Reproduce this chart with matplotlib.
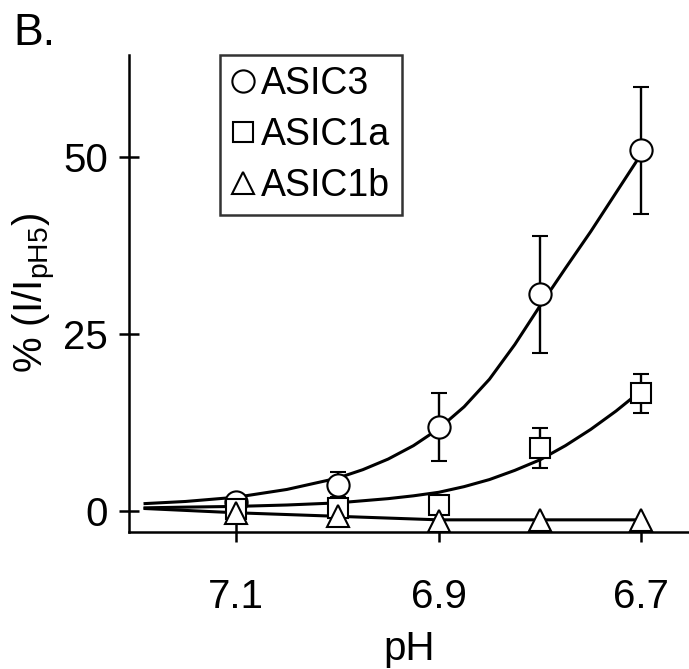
import numpy as np
import matplotlib.pyplot as plt

plt.rcParams['font.family'] = ['Liberation Sans', 'DejaVu Sans']
plt.rcParams['mathtext.default'] = 'regular'

# data points (pH, % of pH5 current)
ph = np.array([7.1, 7.0, 6.9, 6.8, 6.7])
asic3 = np.array([1.2, 3.7, 11.8, 30.6, 51.0])
asic3_err = np.array([1.0, 1.7, 4.8, 8.3, 9.0])
asic1a = np.array([0.3, 0.4, 0.8, 8.9, 16.6])
asic1a_err = np.array([0.0, 0.0, 0.0, 2.8, 2.8])
asic1b = np.array([-0.3, -0.8, -1.4, -1.3, -1.3])

# fitted curves
fit_ph = np.array([7.19, 7.15, 7.1, 7.05, 7.0, 6.975, 6.95, 6.925, 6.9, 6.875,
                   6.85, 6.825, 6.8, 6.775, 6.75, 6.725, 6.7])
fit_asic3 = np.array([1.0, 1.3, 1.9, 3.0, 4.6, 5.8, 7.3, 9.2, 11.6, 14.7,
                      18.6, 23.5, 29.0, 34.3, 39.5, 45.0, 50.5])
fit_asic1a = np.array([0.4, 0.5, 0.6, 0.8, 1.1, 1.4, 1.7, 2.1, 2.6, 3.4,
                       4.4, 5.7, 7.2, 9.2, 11.5, 14.1, 17.0])
line_ph = np.array([7.19, 7.1, 7.0, 6.9, 6.8, 6.7])
line_asic1b = np.array([0.3, -0.3, -0.8, -1.3, -1.3, -1.3])

fig = plt.figure(figsize=(6.89, 6.69), dpi=100)
ax = fig.add_axes([0.187, 0.205, 0.813, 0.713])

lw = 2.2
ax.plot(fit_ph, fit_asic3, color='black', lw=lw, zorder=2)
ax.plot(fit_ph, fit_asic1a, color='black', lw=lw, zorder=2)
ax.plot(line_ph, line_asic1b, color='black', lw=lw, zorder=2)

eb = dict(mfc='white', mec='black', mew=1.5, ecolor='black', elinewidth=1.7,
          capsize=6, capthick=1.7)
h3 = ax.errorbar(ph, asic3, yerr=asic3_err, fmt='o', ms=16, zorder=3, **eb)
h1a = ax.errorbar(ph, asic1a, yerr=asic1a_err, fmt='s', ms=14.5, zorder=4, **eb)
h1b, = ax.plot(ph, asic1b, '^', ms=15.5, mfc='white', mec='black', mew=1.5,
               ls='none', zorder=5)

ax.set_xlim(7.206, 6.653)
ax.set_ylim(-3.0, 64.5)
ax.set_xticks([7.1, 6.9, 6.7])
ax.set_xticklabels(['7.1', '6.9', '6.7'])
ax.set_yticks([0, 25, 50])

for s in ['top', 'right']:
    ax.spines[s].set_visible(False)
for s in ['left', 'bottom']:
    ax.spines[s].set_linewidth(1.8)

ax.tick_params(axis='y', direction='inout', length=14, width=1.8, labelsize=29, pad=8)
ax.tick_params(axis='x', direction='inout', length=14, width=1.8, labelsize=29, pad=26)

ax.set_xlabel('pH', fontsize=29, labelpad=10)
ax.set_ylabel('% (I/I$_{pH5}$)', fontsize=29, labelpad=4)

leg = ax.legend([h3.lines[0], h1a.lines[0], h1b], ['ASIC3', 'ASIC1a', 'ASIC1b'],
                loc='upper left', bbox_to_anchor=(0.163, 1.0),
                fontsize=27, frameon=True, fancybox=False, handlelength=0.6,
                handletextpad=0.2, borderpad=0.3, labelspacing=0.4,
                borderaxespad=0, markerscale=1.0)
leg.get_frame().set_edgecolor('black')
leg.get_frame().set_linewidth(1.8)

fig.text(0.02, 0.98, 'B.', fontsize=32, va='top', ha='left')

plt.savefig('out.png', dpi=100)
